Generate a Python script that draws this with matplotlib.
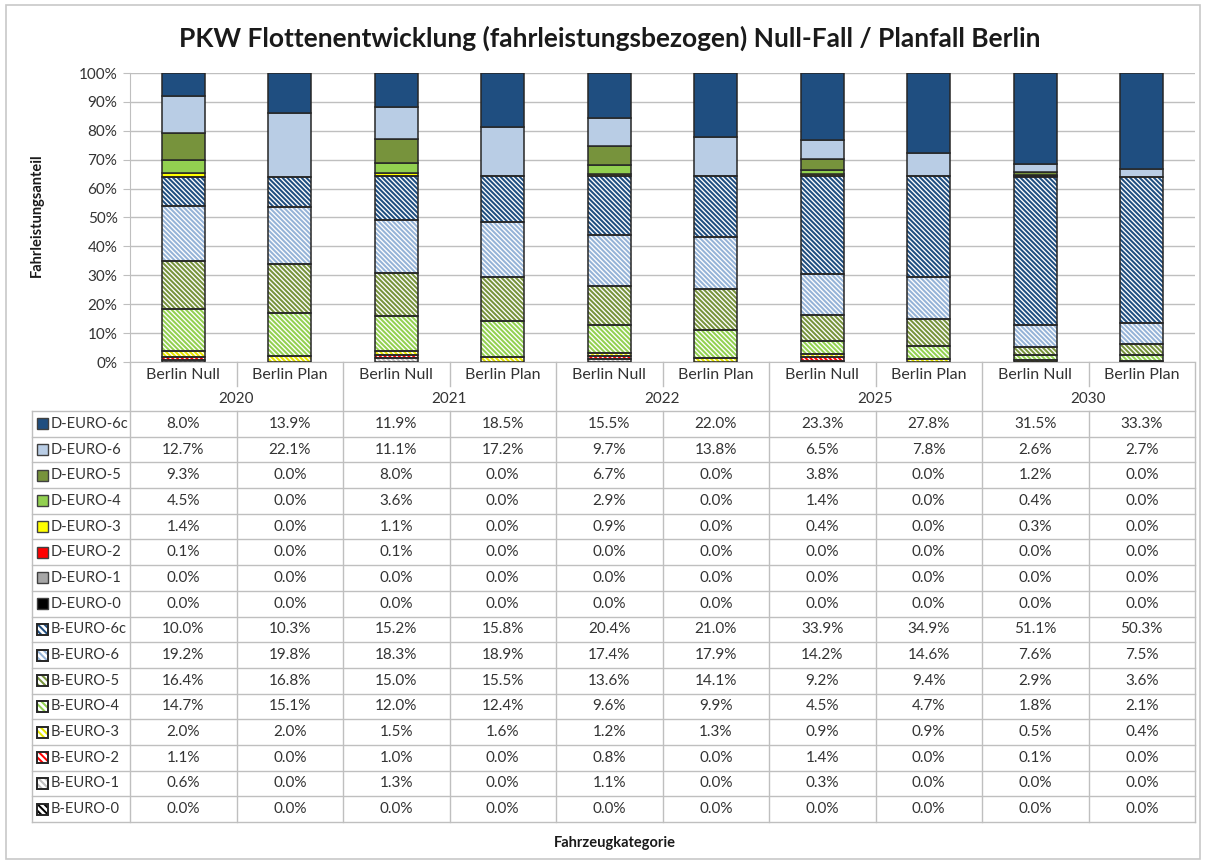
import matplotlib.pyplot as plt
from matplotlib.patches import Rectangle
import numpy as np

plt.rcParams['font.family'] = ['Lato', 'DejaVu Sans']
plt.rcParams['hatch.linewidth'] = 1.45

# categories
years = ['2020', '2021', '2022', '2025', '2030']
cases = ['Berlin Null', 'Berlin Plan']

# values in % (columns: 2020 Null, 2020 Plan, 2021 Null, ... 2030 Plan)
d_euro_6c = [8.0, 13.9, 11.9, 18.5, 15.5, 22.0, 23.3, 27.8, 31.5, 33.3]
d_euro_6 = [12.7, 22.1, 11.1, 17.2, 9.7, 13.8, 6.5, 7.8, 2.6, 2.7]
d_euro_5 = [9.3, 0.0, 8.0, 0.0, 6.7, 0.0, 3.8, 0.0, 1.2, 0.0]
d_euro_4 = [4.5, 0.0, 3.6, 0.0, 2.9, 0.0, 1.4, 0.0, 0.4, 0.0]
d_euro_3 = [1.4, 0.0, 1.1, 0.0, 0.9, 0.0, 0.4, 0.0, 0.3, 0.0]
d_euro_2 = [0.1, 0.0, 0.1, 0.0, 0.0, 0.0, 0.0, 0.0, 0.0, 0.0]
d_euro_1 = [0.0, 0.0, 0.0, 0.0, 0.0, 0.0, 0.0, 0.0, 0.0, 0.0]
d_euro_0 = [0.0, 0.0, 0.0, 0.0, 0.0, 0.0, 0.0, 0.0, 0.0, 0.0]
b_euro_6c = [10.0, 10.3, 15.2, 15.8, 20.4, 21.0, 33.9, 34.9, 51.1, 50.3]
b_euro_6 = [19.2, 19.8, 18.3, 18.9, 17.4, 17.9, 14.2, 14.6, 7.6, 7.5]
b_euro_5 = [16.4, 16.8, 15.0, 15.5, 13.6, 14.1, 9.2, 9.4, 2.9, 3.6]
b_euro_4 = [14.7, 15.1, 12.0, 12.4, 9.6, 9.9, 4.5, 4.7, 1.8, 2.1]
b_euro_3 = [2.0, 2.0, 1.5, 1.6, 1.2, 1.3, 0.9, 0.9, 0.5, 0.4]
b_euro_2 = [1.1, 0.0, 1.0, 0.0, 0.8, 0.0, 1.4, 0.0, 0.1, 0.0]
b_euro_1 = [0.6, 0.0, 1.3, 0.0, 1.1, 0.0, 0.3, 0.0, 0.0, 0.0]
b_euro_0 = [0.0, 0.0, 0.0, 0.0, 0.0, 0.0, 0.0, 0.0, 0.0, 0.0]

HT = '\\' * 7  # dense downward diagonal

# table order (top to bottom)
series = [
    ('D-EURO-6c', d_euro_6c, '#1F4E80', None),
    ('D-EURO-6', d_euro_6, '#B9CDE5', None),
    ('D-EURO-5', d_euro_5, '#77933C', None),
    ('D-EURO-4', d_euro_4, '#92D050', None),
    ('D-EURO-3', d_euro_3, '#FFFF00', None),
    ('D-EURO-2', d_euro_2, '#FF0000', None),
    ('D-EURO-1', d_euro_1, '#A6A6A6', None),
    ('D-EURO-0', d_euro_0, '#000000', None),
    ('B-EURO-6c', b_euro_6c, '#1F4E80', HT),
    ('B-EURO-6', b_euro_6, '#95B3D7', HT),
    ('B-EURO-5', b_euro_5, '#77933C', HT),
    ('B-EURO-4', b_euro_4, '#92D050', HT),
    ('B-EURO-3', b_euro_3, '#E6E600', HT),
    ('B-EURO-2', b_euro_2, '#FF0000', HT),
    ('B-EURO-1', b_euro_1, '#BFBFBF', HT),
    ('B-EURO-0', b_euro_0, '#000000', HT),
]

W, H = 1206, 863
txt = '#333333'
grid = '#BFBFBF'
fig = plt.figure(figsize=(W / 100, H / 100), dpi=100)

# layout in pixels
x0, x1 = 130, 1195
y_top, y_zero = 73, 362
colw = (x1 - x0) / 10

ax = fig.add_axes([x0 / W, 1 - y_zero / H, (x1 - x0) / W, (y_zero - y_top) / H])
ax.set_facecolor('none')

n = len(d_euro_6c)
xs = np.arange(n)
totals = np.sum([np.array(s[1]) for s in series], axis=0)
bottom = np.zeros(n)
for name, vals, col, hatch in reversed(series):
    h = np.array(vals) / totals
    for i in range(n):
        if h[i] <= 0:
            continue
        if hatch:
            ax.bar(xs[i], h[i], 0.4, bottom=bottom[i], color='white',
                   edgecolor=col, hatch=hatch, linewidth=0, zorder=3)
            ax.bar(xs[i], h[i], 0.4, bottom=bottom[i], fill=False,
                   edgecolor='#262626', linewidth=1.1, zorder=4)
        else:
            ax.bar(xs[i], h[i], 0.4, bottom=bottom[i], color=col,
                   edgecolor='#262626', linewidth=1.1, zorder=3)
    bottom += h

ax.set_xlim(-0.5, n - 0.5)
ax.set_ylim(0, 1)
ax.set_yticks(np.arange(0, 1.01, 0.1))
ax.set_yticklabels(['%d%%' % round(v * 100) for v in np.arange(0, 1.01, 0.1)])
ax.set_xticks([])
ax.yaxis.grid(True, color=grid, linewidth=1)
ax.set_axisbelow(True)
for s in ['top', 'right']:
    ax.spines[s].set_visible(False)
ax.spines['left'].set_color(grid)
ax.spines['bottom'].set_color(grid)
ax.tick_params(axis='y', length=5, color=grid, labelsize=11, labelcolor=txt, pad=4)

# table drawn in pixel coordinates
pa = fig.add_axes([0, 0, 1, 1])
pa.set_xlim(0, W)
pa.set_ylim(H, 0)
pa.axis('off')

row0, rowh = 411, (822 - 411) / 16
leg_x = 32
lw = 1

# outer frame
pa.add_patch(Rectangle((6, 5), 1194, 854, fill=False, edgecolor='#C8C8C8', linewidth=1.2))

# vertical lines
for k in range(11):
    xv = x0 + k * colw
    if k % 2 == 0:
        pa.plot([xv, xv], [y_zero, 822], color=grid, lw=lw)
    else:
        pa.plot([xv, xv], [y_zero, 386], color=grid, lw=lw)
        pa.plot([xv, xv], [row0, 822], color=grid, lw=lw)
pa.plot([leg_x, leg_x], [row0, 822], color=grid, lw=lw)
for r in range(17):
    yh = row0 + r * rowh
    pa.plot([leg_x, x1], [yh, yh], color=grid, lw=lw)

# category and year labels
for i in range(n):
    pa.text(x0 + (i + 0.5) * colw, 375, cases[i % 2], ha='center', va='center',
            fontsize=11.5, color=txt)
for k, yr in enumerate(years):
    pa.text(x0 + (2 * k + 1) * colw, 399, yr, ha='center', va='center',
            fontsize=11, color=txt)

# data rows
for r, (name, vals, col, hatch) in enumerate(series):
    yc = row0 + (r + 0.5) * rowh
    if hatch:
        pa.add_patch(Rectangle((37, yc - 5.5), 11, 11, facecolor='white', edgecolor=col,
                               hatch='\\' * 5, linewidth=0))
        pa.add_patch(Rectangle((37, yc - 5.5), 11, 11, fill=False, edgecolor='#262626',
                               linewidth=1.4))
    else:
        pa.add_patch(Rectangle((37, yc - 5.5), 11, 11, facecolor=col, edgecolor='#404040',
                               linewidth=1))
    pa.text(51, yc, name, ha='left', va='center', fontsize=10.5, color=txt)
    for i, v in enumerate(vals):
        pa.text(x0 + (i + 0.5) * colw, yc, '%.1f%%' % v, ha='center', va='center',
                fontsize=11, color=txt)

# titles
pa.text(610, 38, 'PKW Flottenentwicklung (fahrleistungsbezogen) Null-Fall / Planfall Berlin',
        ha='center', va='center', fontsize=19, fontweight='bold', color='#1a1a1a')
pa.text(37, 215, 'Fahrleistungsanteil', rotation=90, ha='center', va='center',
        fontsize=10.5, fontweight='bold', color='#1a1a1a')
pa.text(615, 843, 'Fahrzeugkategorie', ha='center', va='center',
        fontsize=10.5, fontweight='bold', color='#1a1a1a')

fig.savefig('out.png', dpi=100)
